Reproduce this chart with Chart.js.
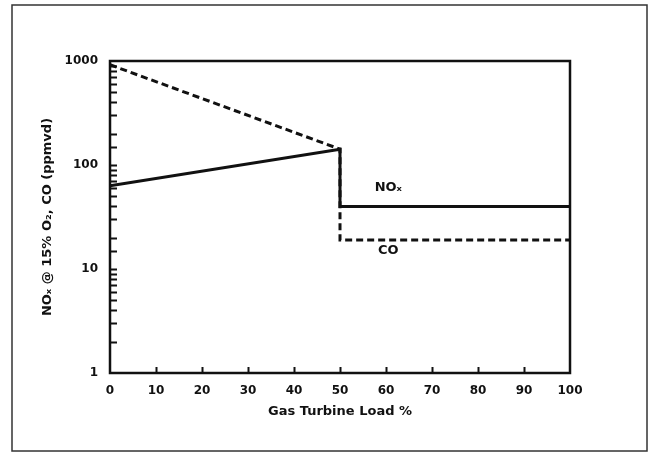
<!DOCTYPE html>
<html>
<head>
<meta charset="utf-8">
<script src="https://cdn.jsdelivr.net/npm/chart.js@4/dist/chart.umd.min.js"></script>
<style>
  html, body { margin: 0; padding: 0; background: #fff; }
  #wrap { width: 651px; height: 453px; }
</style>
</head>
<body>
<div id="wrap"><canvas id="myChart" width="651" height="453"></canvas></div>
<script>
// load in percent, emissions in ppmvd
const loadNOx = [0, 50, 50, 100];
const valuesNOx = [63, 142, 40, 40];
const loadCO = [0, 50, 50, 100];
const valuesCO = [920, 142, 19, 19];

const xTickLabels = [0, 10, 20, 30, 40, 50, 60, 70, 80, 90, 100];
const yTickLabels = [1, 10, 100, 1000];

// inline curve labels: [text, load, ppmvd]
const curveLabels = [
  ['NOₓ', 60.5, 60],
  ['CO', 60.5, 15]
];

const ink = '#111';
const tickFont = { family: 'DejaVu Sans', size: 12, weight: 'bold' };
const titleFont = { family: 'DejaVu Sans', size: 13, weight: 'bold' };

function toPoints(xs, ys) {
  return xs.map((x, i) => ({ x: x, y: ys[i] }));
}

const framePlugin = {
  id: 'frame',
  beforeDraw(chart) {
    const ctx = chart.ctx;
    ctx.save();
    ctx.fillStyle = '#fff';
    ctx.fillRect(0, 0, chart.width, chart.height);
    ctx.strokeStyle = '#333';
    ctx.lineWidth = 1.5;
    ctx.strokeRect(12, 5, 635, 446);
    ctx.restore();
  },
  afterDraw(chart) {
    const ctx = chart.ctx;
    const a = chart.chartArea;
    const xs = chart.scales.x;
    const ys = chart.scales.y;
    ctx.save();
    ctx.strokeStyle = ink;
    ctx.lineWidth = 2.5;
    ctx.strokeRect(a.left, a.top, a.right - a.left, a.bottom - a.top);

    // inward ticks
    ctx.lineWidth = 2;
    ctx.beginPath();
    ys.ticks.forEach(t => {
      if (t.value <= 1 || t.value >= 1000) return;
      const py = Math.round(ys.getPixelForValue(t.value)) + 0.5;
      ctx.moveTo(a.left, py);
      ctx.lineTo(a.left + 7, py);
    });
    xTickLabels.forEach(v => {
      if (v === 0 || v === 100) return;
      const px = Math.round(xs.getPixelForValue(v)) + 0.5;
      ctx.moveTo(px, a.bottom);
      ctx.lineTo(px, a.bottom - 6);
    });
    ctx.stroke();

    ctx.fillStyle = ink;
    ctx.font = 'bold 13px "DejaVu Sans"';
    ctx.textAlign = 'center';
    ctx.textBaseline = 'middle';
    curveLabels.forEach(([txt, lx, ly]) => {
      ctx.fillText(txt, xs.getPixelForValue(lx), ys.getPixelForValue(ly));
    });
    ctx.restore();
  }
};

const ctx = document.getElementById('myChart').getContext('2d');
const myChart = new Chart(ctx, {
  type: 'scatter',
  data: {
    datasets: [
      {
        label: 'NOx',
        data: toPoints(loadNOx, valuesNOx),
        showLine: true,
        borderColor: ink,
        borderWidth: 3,
        pointRadius: 0,
        tension: 0
      },
      {
        label: 'CO',
        data: toPoints(loadCO, valuesCO),
        showLine: true,
        borderColor: ink,
        borderWidth: 3,
        borderDash: [7, 4],
        pointRadius: 0,
        tension: 0
      }
    ]
  },
  options: {
    responsive: false,
    animation: false,
    layout: { padding: { left: 40, right: 81, top: 61, bottom: 30 } },
    plugins: {
      legend: { display: false },
      tooltip: { enabled: false }
    },
    scales: {
      x: {
        type: 'linear',
        min: 0,
        max: 100,
        afterFit: s => { s.height = 50; },
        afterBuildTicks: s => { s.ticks = xTickLabels.map(v => ({ value: v })); },
        grid: { display: false },
        border: { display: false },
        ticks: { color: ink, font: tickFont, padding: 3, maxRotation: 0 },
        title: {
          display: true,
          text: 'Gas Turbine Load %',
          color: ink,
          font: titleFont,
          padding: { top: 3 }
        }
      },
      y: {
        type: 'logarithmic',
        min: 1,
        max: 1000,
        afterFit: s => { s.width = 70; },
        grid: { display: false },
        border: { display: false },
        ticks: {
          color: ink,
          font: tickFont,
          padding: 4,
          autoSkip: false,
          callback: v => yTickLabels.includes(v) ? String(v) : ''
        },
        title: {
          display: true,
          text: 'NOₓ @ 15% O₂, CO (ppmvd)',
          color: ink,
          font: titleFont,
          padding: { top: 0, bottom: 0 }
        }
      }
    }
  },
  plugins: [framePlugin]
});
</script>
</body>
</html>
